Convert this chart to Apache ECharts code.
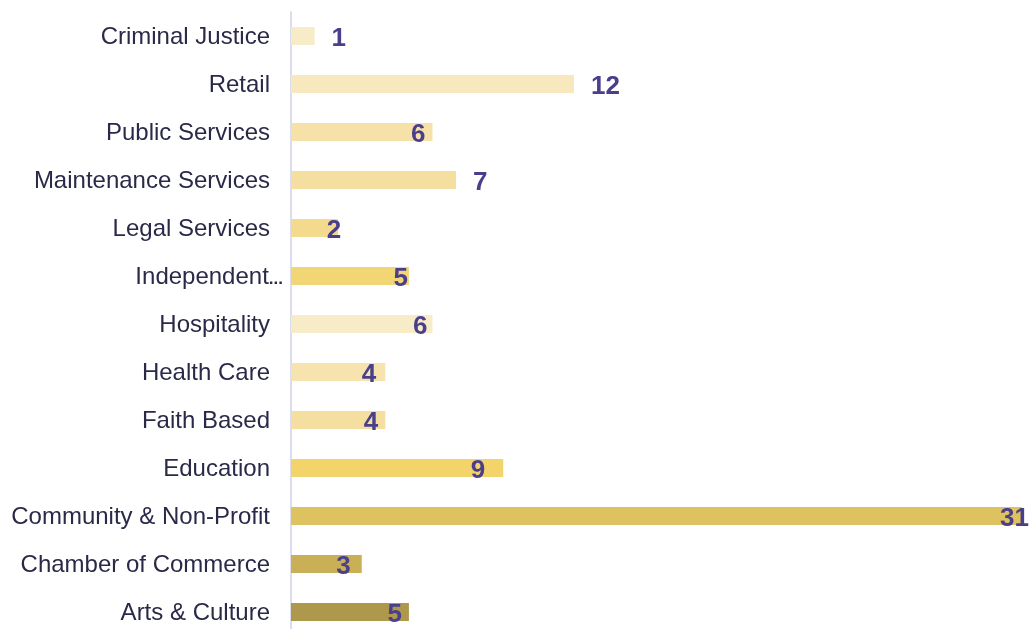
<!DOCTYPE html>
<html>
<head>
<meta charset="utf-8">
<script src="https://cdn.jsdelivr.net/npm/echarts@6/dist/echarts.min.js"></script>
<style>
  html, body { margin: 0; padding: 0; background: #fff; }
  #chart { width: 1032px; height: 629px; }
</style>
</head>
<body>
<div id="chart"></div>
<script>
// top to bottom as shown
const categories = [
  'Criminal Justice', 'Retail', 'Public Services', 'Maintenance Services',
  'Legal Services', 'Independent...', 'Hospitality', 'Health Care',
  'Faith Based', 'Education', 'Community & Non-Profit',
  'Chamber of Commerce', 'Arts & Culture'
]
const counts = [1, 12, 6, 7, 2, 5, 6, 4, 4, 9, 31, 3, 5]
const barColors = [
  '#f8ebc7', '#f8e8bd', '#f6e2a9', '#f5dfa0', '#f4da8c', '#f2d675',
  '#f8ebc7', '#f6e3ae', '#f5dfa0', '#f2d46b', '#dfc260', '#c9af55', '#ad984b'
]

// which value labels sit past the bar end, and how far the others
// stick out past (+) or stay inside (-) the bar end
const labelOutside = [true, true, false, true, false, false, false, false, false, false, false, false, false]
const labelShift = [17, 17, -7, 17, 3, -1, -5, -9, -7, -18, 7, -11, -7]

const chart = echarts.init(document.getElementById('chart'))

// truncated names keep their dots tight and hang past the other labels
function categoryLabel(name) {
  if (name.endsWith('...')) {
    return '{t|' + name.slice(0, -3) + '}{d|...}'
  }
  return '{t|' + name + '}{gap|}'
}

chart.setOption({
  animation: false,
  grid: {
    left: 291,
    right: 10,
    top: 12,
    height: 624,
    outerBoundsMode: 'none'
  },
  xAxis: {
    type: 'value',
    min: 0,
    max: 31,
    show: false
  },
  yAxis: {
    type: 'category',
    inverse: true,
    data: categories,
    axisLine: {
      lineStyle: { color: '#dcdcef', width: 2 }
    },
    axisTick: { show: false },
    axisLabel: {
      margin: 8,
      formatter: categoryLabel,
      rich: {
        t: {
          color: '#2a2a48',
          fontFamily: 'Liberation Sans',
          fontSize: 24,
          padding: [2, 0, 0, 0]
        },
        d: {
          color: '#2a2a48',
          fontFamily: 'Liberation Sans',
          fontWeight: 'bold',
          fontSize: 17,
          padding: [7, 0, 0, 0]
        },
        gap: { width: 13 }
      }
    }
  },
  series: [
    {
      type: 'bar',
      barWidth: 18,
      data: counts.map((v, i) => ({
        value: v,
        itemStyle: { color: barColors[i] },
        label: labelOutside[i]
          ? { position: 'right', distance: labelShift[i] }
          : { position: 'insideRight', distance: -labelShift[i] }
      })),
      label: {
        show: true,
        color: '#4a3f8b',
        fontFamily: 'Liberation Sans',
        fontWeight: 'bold',
        fontSize: 26,
        offset: [0, 3]
      }
    }
  ]
})
</script>
</body>
</html>
